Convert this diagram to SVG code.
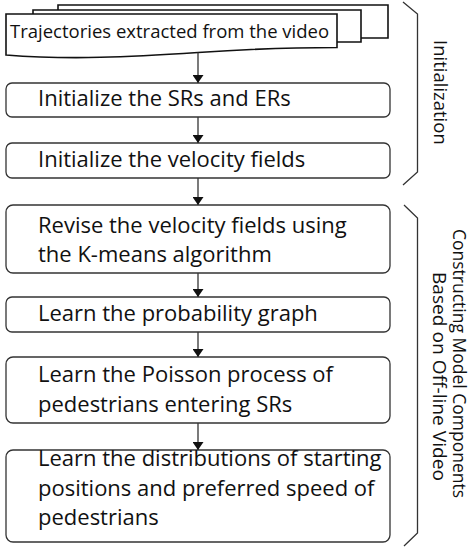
<svg xmlns="http://www.w3.org/2000/svg" width="474" height="547" viewBox="0 0 474 547">
<style>
.box{fill:#fff;stroke:#333;stroke-width:1.3}
.doc{fill:#fff;stroke:#111;stroke-width:1.6}
.t{font-family:"Open Sans","Noto Sans",sans-serif;font-size:22px;fill:#111}
.td{font-family:"Open Sans","Noto Sans",sans-serif;font-size:18.5px;fill:#111}
.tl{font-family:"Open Sans","Noto Sans",sans-serif;font-size:18.5px;fill:#111}
.conn{stroke:#333;stroke-width:1.3;fill:none;marker-end:url(#ah)}
.brace{stroke:#333;stroke-width:1.3;fill:none}
</style>
<defs>
<marker id="ah" viewBox="0 0 8 11" markerWidth="8" markerHeight="11" refX="8" refY="5.5" orient="auto" markerUnits="userSpaceOnUse">
<path d="M0,0 L8,5.5 L0,11 z" fill="#111"/>
</marker>
</defs>
<rect width="474" height="547" fill="#fff"/>
<g id="n0">
<path class="doc" d="M58,10 V5 H388 V38 H361"/>
<path class="doc" d="M33,14 V10 H361 V42 H337"/>
<path class="doc" d="M6,14 H337 V47.5 C300,47.5 250,49 198,52.5 C130,57 70,60 6,55 Z"/>
<text class="td" x="10" y="38">Trajectories extracted from the video</text>
</g>
<g id="n1">
<rect class="box" x="6" y="83" width="384" height="34" rx="6"/>
<text class="t" x="38" y="106">Initialize the SRs and ERs</text>
</g>
<g id="n2">
<rect class="box" x="6" y="143" width="384" height="35" rx="6"/>
<text class="t" x="38" y="167">Initialize the velocity fields</text>
</g>
<g id="n3">
<rect class="box" x="6" y="205" width="384" height="68" rx="7"/>
<text class="t" x="38" y="233">Revise the velocity fields using</text>
<text class="t" x="38" y="262">the K-means algorithm</text>
</g>
<g id="n4">
<rect class="box" x="6" y="297" width="384" height="35" rx="6"/>
<text class="t" x="38" y="321">Learn the probability graph</text>
</g>
<g id="n5">
<rect class="box" x="6" y="357" width="384" height="66" rx="7"/>
<text class="t" x="38" y="382">Learn the Poisson process of</text>
<text class="t" x="38" y="412">pedestrians entering SRs</text>
</g>
<g id="n6">
<rect class="box" x="6" y="450" width="384" height="92" rx="7"/>
<text class="t" x="38" y="466">Learn the distributions of starting</text>
<text class="t" x="38" y="496">positions and preferred speed of</text>
<text class="t" x="38" y="525">pedestrians</text>
</g>
<g id="connectors">
<line class="conn" x1="198" y1="52.5" x2="198" y2="83"/>
<line class="conn" x1="198" y1="117" x2="198" y2="143"/>
<line class="conn" x1="198" y1="178" x2="198" y2="205"/>
<line class="conn" x1="198" y1="273" x2="198" y2="297"/>
<line class="conn" x1="198" y1="332" x2="198" y2="357"/>
<line class="conn" x1="198" y1="423" x2="198" y2="450"/>
</g>
<g id="brace-init">
<path class="brace" d="M403,2 L417.5,14 V172 L403,185"/>
<text class="tl" transform="translate(434,40) rotate(90)">Initialization</text>
</g>
<g id="brace-construct">
<path class="brace" d="M404,205 L417.5,218 V533 L404,546"/>
<text class="tl" transform="translate(453,229) rotate(90)" textLength="269" lengthAdjust="spacingAndGlyphs">Constructing Model Components</text>
<text class="tl" transform="translate(433,272) rotate(90)" textLength="209" lengthAdjust="spacingAndGlyphs">Based on Off-line Video</text>
</g>
</svg>
